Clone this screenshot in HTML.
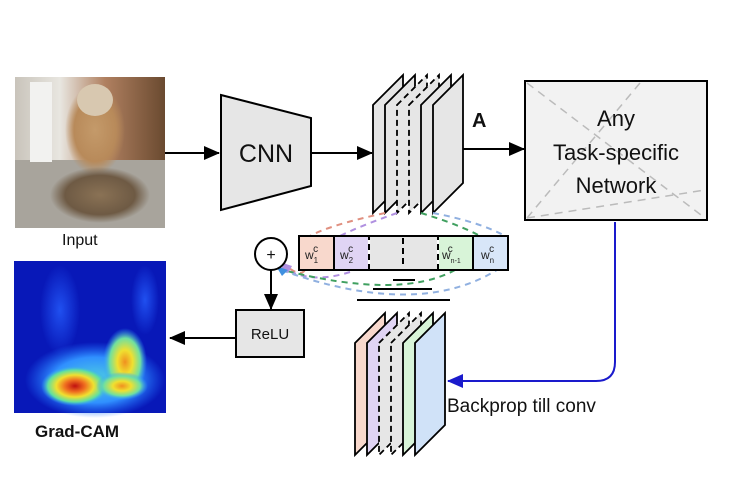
<!DOCTYPE html>
<html><head><meta charset="utf-8"><style>
html,body{margin:0;padding:0;background:#fff;}
svg{display:block;font-family:"Liberation Sans",sans-serif;}
</style></head><body>
<svg width="750" height="494" viewBox="0 0 750 494" xmlns="http://www.w3.org/2000/svg">
<defs>
<marker id="ab2" markerWidth="16" markerHeight="14" refX="15" refY="7" orient="auto" markerUnits="userSpaceOnUse"><path d="M0,0 L16,7 L0,14 z" fill="#000"/></marker>
<marker id="bb" markerWidth="16" markerHeight="14" refX="15" refY="7" orient="auto" markerUnits="userSpaceOnUse"><path d="M0,0 L16,7 L0,14 z" fill="#1a1acc"/></marker>
<linearGradient id="room" x1="0" y1="0" x2="1" y2="0">
<stop offset="0" stop-color="#c9c4bb"/><stop offset="0.3" stop-color="#e8e6e0"/><stop offset="0.6" stop-color="#b08060"/><stop offset="1" stop-color="#6a4a30"/></linearGradient>
<radialGradient id="dog" cx="0.5" cy="0.5" r="0.5"><stop offset="0" stop-color="#c49a6a"/><stop offset="0.7" stop-color="#b88a5a"/><stop offset="1" stop-color="#b88a5a" stop-opacity="0"/></radialGradient>
<radialGradient id="cat" cx="0.5" cy="0.5" r="0.5"><stop offset="0" stop-color="#8a7255"/><stop offset="0.7" stop-color="#6e5a44"/><stop offset="1" stop-color="#6e5a44" stop-opacity="0"/></radialGradient>
<radialGradient id="hot" cx="0.5" cy="0.5" r="0.5"><stop offset="0" stop-color="#c01010"/><stop offset="0.3" stop-color="#f07020"/><stop offset="0.55" stop-color="#f0e030"/><stop offset="0.8" stop-color="#60e0a0"/><stop offset="1" stop-color="#30a0ff" stop-opacity="0"/></radialGradient>
<radialGradient id="hot2" cx="0.5" cy="0.5" r="0.5"><stop offset="0" stop-color="#f09020"/><stop offset="0.35" stop-color="#f0e030"/><stop offset="0.7" stop-color="#70e0a0"/><stop offset="1" stop-color="#30a0ff" stop-opacity="0"/></radialGradient>
<radialGradient id="cyan" cx="0.5" cy="0.5" r="0.5"><stop offset="0" stop-color="#50d0e0"/><stop offset="0.6" stop-color="#3090ff"/><stop offset="1" stop-color="#2070ff" stop-opacity="0"/></radialGradient>
<radialGradient id="lb" cx="0.5" cy="0.5" r="0.5"><stop offset="0" stop-color="#2050f0"/><stop offset="1" stop-color="#2050f0" stop-opacity="0"/></radialGradient>
</defs>

<!-- input photo -->
<rect x="15" y="77" width="150" height="151" fill="url(#room)"/>
<rect x="15" y="160" width="150" height="68" fill="#a8a49c"/>
<rect x="30" y="82" width="22" height="80" fill="#f2f2f0"/>
<ellipse cx="95" cy="130" rx="30" ry="45" fill="url(#dog)"/>
<ellipse cx="95" cy="100" rx="18" ry="16" fill="#d8c8b0"/>
<ellipse cx="100" cy="195" rx="50" ry="28" fill="url(#cat)"/>

<!-- heatmap -->
<rect x="14" y="261" width="152" height="152" fill="#0818b8"/>
<ellipse cx="60" cy="310" rx="20" ry="45" fill="url(#lb)"/>
<ellipse cx="145" cy="300" rx="14" ry="35" fill="url(#lb)"/>
<ellipse cx="95" cy="380" rx="70" ry="38" fill="url(#cyan)"/>
<ellipse cx="125" cy="362" rx="22" ry="34" fill="url(#hot2)"/>
<ellipse cx="75" cy="386" rx="34" ry="20" fill="url(#hot)"/>
<ellipse cx="122" cy="386" rx="26" ry="14" fill="url(#hot2)"/>

<text x="62" y="245" font-size="16" fill="#111">Input</text>
<text x="35" y="437" font-size="17" font-weight="bold" fill="#111">Grad-CAM</text>

<!-- arrows -->
<line x1="165" y1="153" x2="219" y2="153" stroke="#000" stroke-width="2" marker-end="url(#ab2)"/>
<polygon points="221,95 311,118 311,186 221,210" fill="#e6e6e6" stroke="#000" stroke-width="2"/>
<text x="266" y="162" font-size="25" text-anchor="middle" fill="#111">CNN</text>
<line x1="311" y1="153" x2="372" y2="153" stroke="#000" stroke-width="2" marker-end="url(#ab2)"/>

<!-- top stack -->
<g stroke="#000" stroke-width="1.8" fill="#e6e6e6">
<polygon points="373,105 403,75 403,183 373,213"/>
<polygon points="385,105 415,75 415,183 385,213"/>
<polygon points="397,105 427,75 427,183 397,213" stroke-dasharray="6,4"/>
<polygon points="409,105 439,75 439,183 409,213" stroke-dasharray="6,4"/>
<polygon points="421,105 451,75 451,183 421,213"/>
<polygon points="433,105 463,75 463,183 433,213"/>
</g>
<text x="472" y="127" font-size="20" font-weight="bold" fill="#111">A</text>
<line x1="463" y1="149" x2="524" y2="149" stroke="#000" stroke-width="2" marker-end="url(#ab2)"/>

<!-- task box -->
<rect x="525" y="81" width="182" height="139" fill="#f2f2f2" stroke="#000" stroke-width="2"/>
<g stroke="#bbb" stroke-width="1.5" stroke-dasharray="8,6" fill="none">
<line x1="527" y1="83" x2="705" y2="218"/>
<line x1="527" y1="218" x2="640" y2="83"/>
<line x1="527" y1="218" x2="705" y2="190"/>
</g>
<text x="616" y="126" font-size="22" text-anchor="middle" fill="#111">Any</text>
<text x="616" y="160" font-size="22" text-anchor="middle" fill="#111">Task-specific</text>
<text x="616" y="193" font-size="22" text-anchor="middle" fill="#111">Network</text>

<!-- blue backprop -->
<path d="M615,222 L615,362 Q615,381 596,381 L448,381" fill="none" stroke="#1a1acc" stroke-width="2" marker-end="url(#bb)"/>
<text x="447" y="412" font-size="19" fill="#111">Backprop till conv</text>

<!-- dashed curves -->
<g fill="none" stroke-width="2" stroke-dasharray="6,5">
<path d="M385,213 Q330,225 310,236" stroke="#e09080"/>
<path d="M397,213 Q360,226 340,236" stroke="#b090e0"/>
<path d="M421,213 Q460,225 480,236" stroke="#40a060"/>
<path d="M433,213 Q480,222 505,236" stroke="#90b0e0"/>
<path d="M305,270 Q300,278 284,264" stroke="#e09080"/>
<path d="M350,272 Q310,285 282,267" stroke="#b090e0"/>
<path d="M455,270 Q400,300 283,270" stroke="#40a060"/>
<path d="M500,268 Q420,320 281,270" stroke="#90b0e0"/>
</g>
<polygon points="280,262 292,266 288,273" fill="#b090e0"/>
<polygon points="276,266 288,270 282,276" fill="#4090e0"/>

<!-- weight bar -->
<rect x="299" y="236" width="209" height="34" fill="#e6e6e6" stroke="#000" stroke-width="2"/>
<g stroke="#000" stroke-width="2">
<rect x="299" y="236" width="35" height="34" fill="#f8d8cc"/>
<rect x="334" y="236" width="35" height="34" fill="#e0d4f4"/>
<rect x="438" y="236" width="35" height="34" fill="#d8f4d8"/>
<rect x="473" y="236" width="35" height="34" fill="#d8e6f8"/>
<line x1="403" y1="238" x2="403" y2="268" stroke-dasharray="6,4"/>
</g>
<g stroke="#fff" stroke-width="2.2">
<line x1="369" y1="240" x2="369" y2="244"/><line x1="369" y1="250" x2="369" y2="254"/><line x1="369" y1="260" x2="369" y2="264"/>
<line x1="438" y1="240" x2="438" y2="244"/><line x1="438" y1="250" x2="438" y2="254"/><line x1="438" y1="260" x2="438" y2="264"/>
</g>
<g font-size="12" fill="#222">
<text x="305" y="259">w<tspan font-size="8" dy="4">1</tspan><tspan font-size="10" dx="-5" dy="-11">c</tspan></text>
<text x="340" y="259">w<tspan font-size="8" dy="4">2</tspan><tspan font-size="10" dx="-5" dy="-11">c</tspan></text>
<text x="442" y="259">w<tspan font-size="7" dy="4">n-1</tspan><tspan font-size="10" dx="-13" dy="-11">c</tspan></text>
<text x="481" y="259">w<tspan font-size="8" dy="4">n</tspan><tspan font-size="10" dx="-5" dy="-11">c</tspan></text>
</g>
<g stroke="#000" stroke-width="2">
<line x1="393" y1="280" x2="415" y2="280"/>
<line x1="373" y1="289" x2="432" y2="289"/>
<line x1="357" y1="300" x2="450" y2="300"/>
</g>

<!-- plus circle -->
<circle cx="271" cy="254" r="16" fill="#fff" stroke="#000" stroke-width="2"/>
<text x="271" y="260" font-size="16" text-anchor="middle" fill="#111">+</text>
<line x1="271" y1="270" x2="271" y2="309" stroke="#000" stroke-width="2" marker-end="url(#ab2)"/>

<!-- ReLU -->
<rect x="236" y="310" width="68" height="47" fill="#e6e6e6" stroke="#000" stroke-width="2"/>
<text x="270" y="339" font-size="15" text-anchor="middle" fill="#111">ReLU</text>
<line x1="236" y1="338" x2="170" y2="338" stroke="#000" stroke-width="2" marker-end="url(#ab2)"/>

<!-- bottom stack -->
<g stroke="#000" stroke-width="1.8">
<polygon points="355,343 385,313 385,425 355,455" fill="#f8d8cc"/>
<polygon points="367,343 397,313 397,425 367,455" fill="#e0d4f4"/>
<polygon points="379,343 409,313 409,425 379,455" fill="#e6e6e6" stroke-dasharray="6,4"/>
<polygon points="391,343 421,313 421,425 391,455" fill="#e6e6e6" stroke-dasharray="6,4"/>
<polygon points="403,343 433,313 433,425 403,455" fill="#d8f4d8"/>
<polygon points="415,343 445,313 445,425 415,455" fill="#d0e2f8"/>
</g>
</svg>
</body></html>
